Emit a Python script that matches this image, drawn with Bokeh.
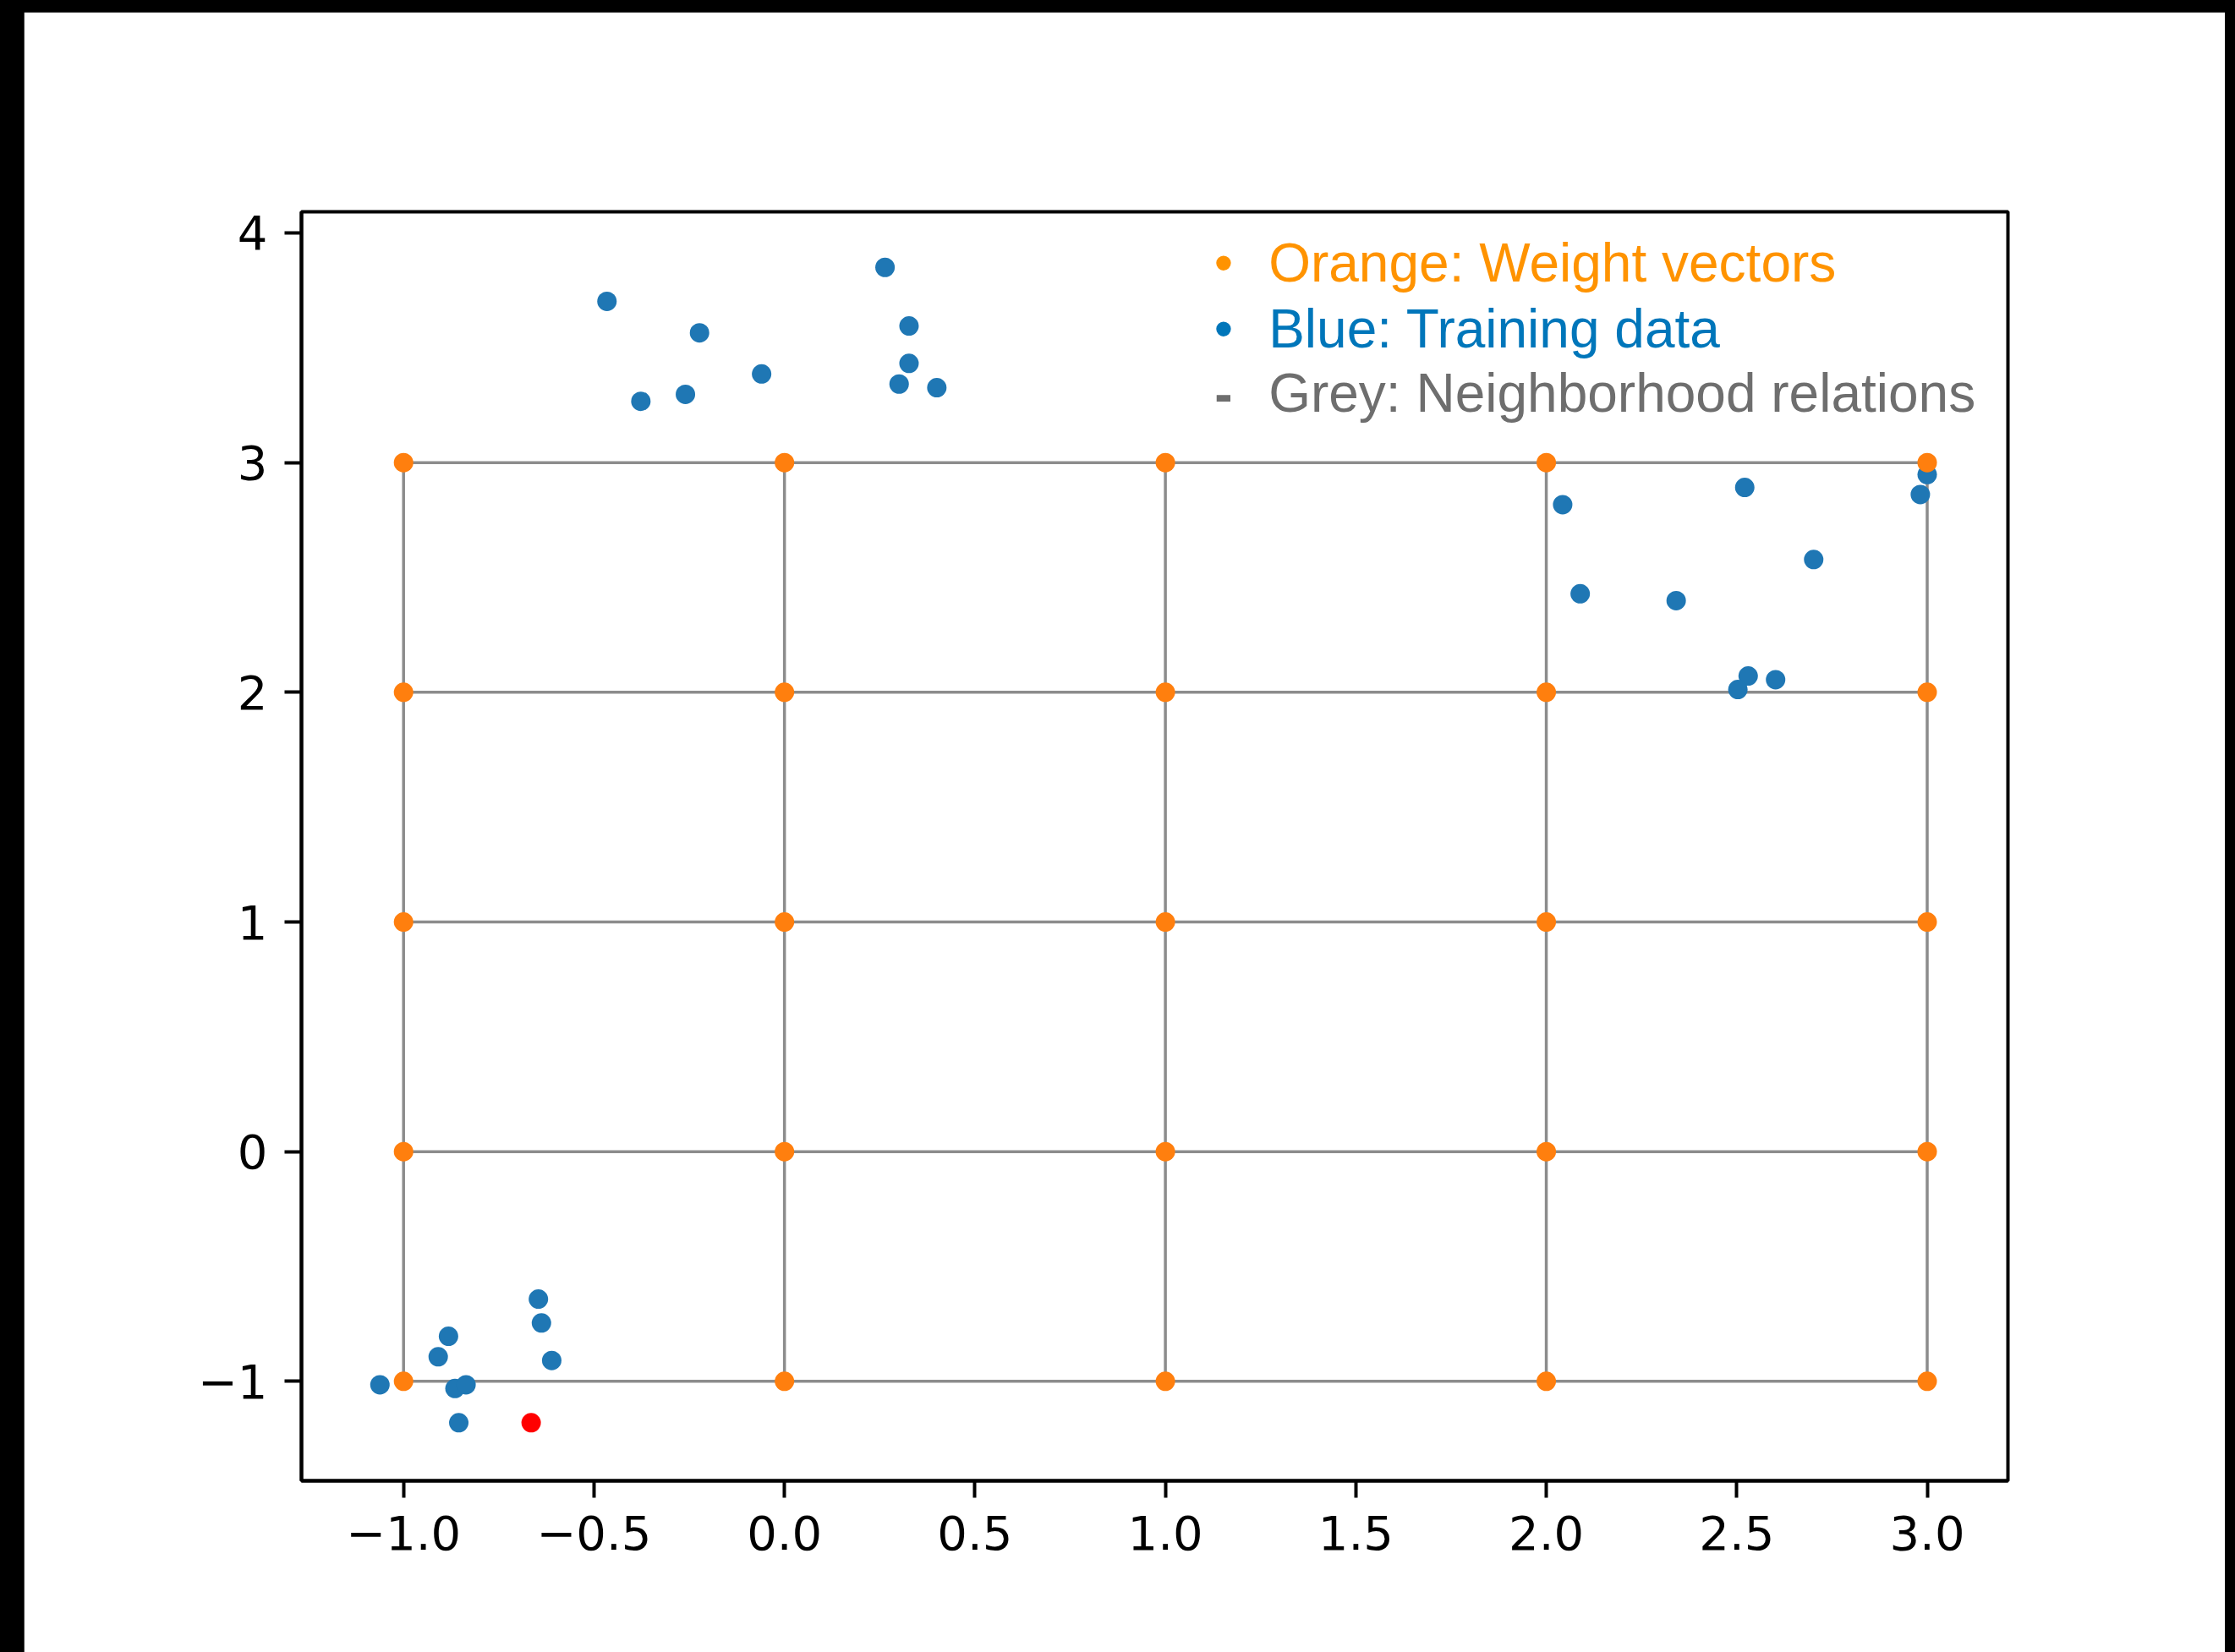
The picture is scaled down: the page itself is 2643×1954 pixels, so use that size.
import numpy as np
from bokeh.plotting import figure
from bokeh.models import Range1d, FixedTicker, Label
from bokeh.layouts import column
from bokeh.embed import file_html
from bokeh.resources import INLINE

# ---------------- data ----------------
grid_x = [-1, 0, 1, 2, 3]
grid_y = [-1, 0, 1, 2, 3]

train_x = [-0.466, -0.377, -0.260, -0.223, -0.060, 0.264, 0.327, 0.327, 0.301, 0.400,
           2.043, 2.521, 3.000, 2.982, 2.702, 2.089, 2.341, 2.530, 2.503, 2.602,
           -1.062, -0.882, -0.909, -0.865, -0.836, -0.855, -0.646, -0.638, -0.611]
train_y = [3.702, 3.267, 3.297, 3.565, 3.386, 3.850, 3.595, 3.432, 3.342, 3.326,
           2.817, 2.892, 2.948, 2.861, 2.578, 2.429, 2.399, 2.071, 2.012, 2.055,
           -1.015, -0.804, -0.893, -1.031, -1.015, -1.180, -0.642, -0.746, -0.909]

sample_x = [-0.665]
sample_y = [-1.180]

x_ticks = [-1.0, -0.5, 0.0, 0.5, 1.0, 1.5, 2.0, 2.5, 3.0]
x_tick_labels = ["\u22121.0", "\u22120.5", "0.0", "0.5", "1.0", "1.5", "2.0", "2.5", "3.0"]
y_ticks = [-1, 0, 1, 2, 3, 4]
y_tick_labels = ["\u22121", "0", "1", "2", "3", "4"]

legend_texts = ["Orange: Weight vectors", "Blue: Training data", "Grey: Neighborhood relations"]
legend_markers = ["\u2022", "\u2022", "-"]
legend_colors = ["#FF9300", "#0076BA", "#6E6E6E"]

# ---------------- derived ----------------
wx = [gx for gy in grid_y for gx in grid_x]
wy = [gy for gy in grid_y for gx in grid_x]

line_xs, line_ys = [], []
for gy in grid_y:
    line_xs.append([min(grid_x), max(grid_x)])
    line_ys.append([gy, gy])
for gx in grid_x:
    line_xs.append([gx, gx])
    line_ys.append([min(grid_y), max(grid_y)])

# ---------------- figure ----------------
p = figure(width=2603, height=1940,
           x_range=Range1d(-1.268, 3.212), y_range=Range1d(-1.433, 4.092),
           output_backend="svg", toolbar_location=None,
           min_border_left=328, min_border_right=257,
           min_border_top=236, min_border_bottom=203)
p.margin = (14, 12, 0, 28)
p.background_fill_color = "white"
p.border_fill_color = "white"
p.outline_line_color = "black"
p.outline_line_width = 4
p.xgrid.visible = False
p.ygrid.visible = False

for ax, ticks, labels, standoff in ((p.xaxis[0], x_ticks, x_tick_labels, 21),
                                    (p.yaxis[0], y_ticks, y_tick_labels, 20)):
    ax.ticker = FixedTicker(ticks=ticks)
    ax.major_label_overrides = {t: l for t, l in zip(ticks, labels)}
    ax.major_label_text_font = "DejaVu Sans"
    ax.major_label_text_font_size = "56px"
    ax.major_label_text_color = "black"
    ax.major_label_standoff = standoff
    ax.axis_line_color = "black"
    ax.axis_line_width = 4
    ax.major_tick_line_color = "black"
    ax.major_tick_line_width = 4
    ax.major_tick_out = 20
    ax.major_tick_in = 0
    ax.minor_tick_out = 0
    ax.minor_tick_in = 0

p.multi_line(xs=line_xs, ys=line_ys, line_color="#8c8c8c", line_width=3.5)
p.scatter(train_x, train_y, size=23, fill_color="#1f77b4", line_color=None)
p.scatter(wx, wy, size=23, fill_color="#ff7f0e", line_color=None)
p.scatter(sample_x, sample_y, size=23, fill_color="#ff0000", line_color=None)

# bulleted annotation in the upper right
text_x = 1.271
marker_x = 1.153
baselines = [3.871, 3.584, 3.301]
for txt, mk, col, by in zip(legend_texts, legend_markers, legend_colors, baselines):
    p.add_layout(Label(x=marker_x, y=by, text=mk, text_color=col,
                       text_font="Liberation Sans", text_font_size="64px",
                       text_font_style="bold" if mk == "-" else "normal",
                       text_align="center", text_baseline="alphabetic"))
    p.add_layout(Label(x=text_x, y=by, text=txt, text_color=col,
                       text_font="Liberation Sans", text_font_size="64px",
                       text_align="left", text_baseline="alphabetic"))

layout = column(p, styles={"background-color": "black"})

open("out.html", "w").write(file_html(layout, INLINE))
